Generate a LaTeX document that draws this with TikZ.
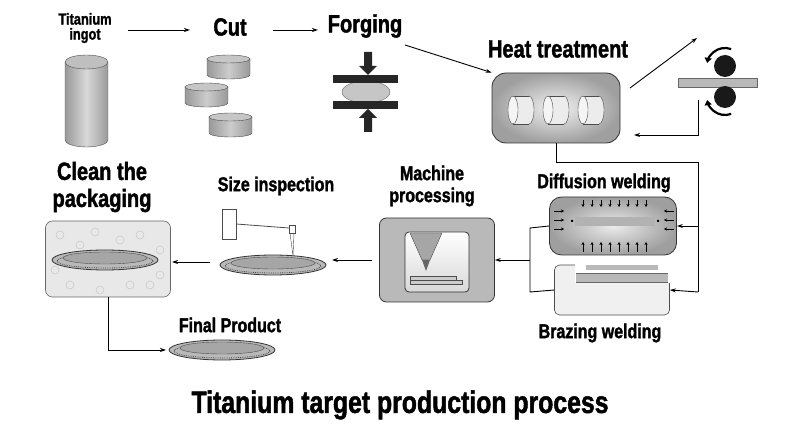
\documentclass[tikz,border=0pt]{standalone}
\usepackage{fontspec}
\setmainfont{Liberation Sans}[FakeStretch=0.8,FakeBold=1.5]
\usetikzlibrary{arrows.meta}
\begin{document}
\begin{tikzpicture}[x=1pt,y=-1pt,
 lab/.style={font=\bfseries\fontsize{#1}{#1}\selectfont,align=center,inner sep=0},
 ar/.style={-{Stealth[length=6pt,width=4pt]},line width=0.9pt},
 ln/.style={line width=0.9pt},
 target/.pic={
   \fill[gray!55,draw=black!80,line width=0.8pt] (0,0) ellipse[x radius=53,y radius=10];
   \draw[black!70,densely dotted,line width=0.8pt] (0,1) ellipse[x radius=48,y radius=7];
   \fill[gray!70,draw=black!70] (0,-2) ellipse[x radius=42,y radius=6];},
 ]
\useasboundingbox (0,0) rectangle (804,446);
% top row labels
\node[lab=16] (ingotl) at (85,28) {Titanium\\[-1pt]ingot};
\node[lab=25] (cutl) at (230,27) {Cut};
\node[lab=25] (forgl) at (365,26) {Forging};
\draw[ar] (128,30) coordinate (a1) -- (190,30) coordinate (a2);
\draw[ar] (273,30) coordinate (b1) -- (318,30) coordinate (b2);
% ingot
\shade[left color=gray!80,right color=gray!80,middle color=gray!30] (65,62) -- (65,140) arc[start angle=180,end angle=0,x radius=21.5,y radius=7] -- (108,62) -- cycle;
\draw[black!70] (65,62) -- (65,140) arc[start angle=180,end angle=0,x radius=21.5,y radius=7] -- (108,62);
\fill[gray!50,draw=black!70] (86.5,62) ellipse[x radius=21.5,y radius=7];
% cut disks
\foreach \x/\y in {207/55,185/83,209/113}{
 \shade[left color=gray!80,right color=gray!80,middle color=gray!40] (\x,\y+4) -- (\x,\y+20) arc[start angle=180,end angle=0,x radius=21.5,y radius=4] -- (\x+43,\y+4) -- cycle;
 \draw[black!70] (\x,\y+4) -- (\x,\y+20) arc[start angle=180,end angle=0,x radius=21.5,y radius=4] -- (\x+43,\y+4);
 \fill[gray!45,draw=black!70] (\x+21.5,\y+4) ellipse[x radius=21.5,y radius=4];}
% forging
\fill[gray!45,draw=black!60] (366,92) ellipse[x radius=24,y radius=11];
\fill[black!85] (333,75) rectangle (398,83);
\fill[black!85] (333,101) rectangle (398,109);
\fill[black!85] (364,52) rectangle (372,66) (359,66) -- (377,66) -- (368,75) -- cycle;
\fill[black!85] (364,118) rectangle (372,132) (359,118) -- (377,118) -- (368,109) -- cycle;
% heat treatment
\node[lab=25] (heatl) at (558,49) {Heat treatment};
\node[draw=black!80,line width=0.8pt,rounded corners=14pt,minimum width=128,minimum height=70,inner color=gray!10,outer color=gray!75] (heat) at (556,108) {};
\foreach \x in {522,557,592}{
 \fill[gray!15,draw=black!70] (\x+7,110) ellipse[x radius=5,y radius=14];
 \fill[gray!15] (\x-9,96) rectangle (\x+7,124);
 \draw[black!70] (\x-9,96) -- (\x+7,96) (\x-9,124) -- (\x+7,124);
 \fill[gray!8,draw=black!70] (\x-9,110) ellipse[x radius=5,y radius=14];}
\coordinate (fo) at (405,45);
\draw[ar] (fo) -- (heat.north west);
% rollers
\coordinate (rl) at (697,38);
\draw[ar] (630,88) -- (rl);
\fill[gray!55,draw=black!60] (678,78) rectangle (757,87);
\fill[black!90] (725,66) circle (11);
\fill[black!90] (725,97) circle (11);
\draw[line width=2.2pt,-{Triangle[length=5pt,width=7pt]}] (725,66) ++(-70:18) arc[start angle=-70,end angle=-170,radius=18];
\draw[line width=2.2pt,-{Triangle[length=5pt,width=7pt]}] (725,97) ++(70:18) arc[start angle=70,end angle=170,radius=18];
\coordinate (rr) at (698,100);
\draw[ar] (rr) -- (698,135) -- (634,135);
% diffusion welding
\node[lab=20] (diffl) at (604,183) {Diffusion welding};
\node[draw=black!80,line width=0.8pt,rounded corners=12pt,minimum width=127,minimum height=58,inner color=gray!15,outer color=gray!75] (diff) at (613,226) {};
\fill[gray!60] (575,217) rectangle (655,226);
\fill[black] (571,220) rectangle (573,222) (657,220) rectangle (659,222);
\foreach \i in {0,...,7}{
 \draw[-{Stealth[length=3pt,width=3pt]}] (583+\i*9,200) -- (583+\i*9,207);
 \draw[-{Stealth[length=3pt,width=3pt]}] (583+\i*9,252) -- (583+\i*9,242);}
\foreach \y in {211,220,229}{
 \draw[-{Stealth[length=3pt,width=3pt]}] (554,\y) -- (564,\y);
 \draw[-{Stealth[length=3pt,width=3pt]}] (674,\y) -- (664,\y);}
% brazing
\node[draw=black!70,line width=0.6pt,rounded corners=5pt,fill=gray!12,minimum width=115,minimum height=50] (braz) at (612,290) {};
\fill[white] (575,262) rectangle (672,283);
\fill[gray!55] (586,265) rectangle (658,270);
\fill[gray!55] (576,273) rectangle (668,282);
\draw[black!60] (576,273) -- (668,273) (576,282)--(668,282);
\node[lab=20] (brazl) at (600,333) {Brazing welding};
% routing from heat box
\draw[ln] (heat.south) -- (556,162) -- (698,162) -- (698,292);
\draw[ar] (698,226) -- (diff.east);
\draw[ar] (698,292) -- (braz.east);
\draw[ln] (diff.west) -- (530,228) -- (530,292) -- (braz.west);
% machine
\node[lab=20] (machl) at (432,186) {Machine\\[2pt]processing};
\node[draw=black!80,line width=0.8pt,rounded corners=7pt,fill=gray!55,minimum width=115,minimum height=84] (mach) at (437,260) {};
\node[draw=black!80,line width=0.8pt,rounded corners=4pt,top color=white,bottom color=gray!30,minimum width=64,minimum height=60] (machin) at (437,262) {};
\fill[gray!70,draw=black!70] (410,233) -- (442,233) -- (430,260) -- (422,260) -- cycle;
\fill[black!60] (422,260) -- (430,260) -- (426,271) -- cycle;
\fill[gray!40,draw=black!70] (410,276) rectangle (456,280);
\fill[gray!40,draw=black!70] (410,280) rectangle (462,284);
\draw[ar] (530,260) -- (mach.east);
% size inspection
\node[lab=20] (sizel) at (276,186) {Size inspection};
\draw[ar] (372,260) coordinate (m1) -- (332,260);
\node[draw=black!70,fill=white,minimum width=14,minimum height=30,inner sep=0] (sbox) at (229,224) {};
\draw[black!70,line width=0.8pt] (sbox.east) -- (289,228);
\node[draw=black!70,fill=white,minimum width=6,minimum height=8,inner sep=0] (probe) at (292,229) {};
\draw[black!70] (290,233) -- (293,256) -- (294,233);
\pic at (273,265) {target};
\coordinate (s1) at (210,262);
\draw[ar] (s1) -- (172,262);
% clean
\node[lab=25] (cleanl) at (102,187) {Clean the\\[2pt]packaging};
\node[draw=black!60,line width=0.6pt,rounded corners=7pt,fill=gray!18,minimum width=125,minimum height=76] (clean) at (108,259) {};
\foreach \px/\py in {60/235,80/245,140/235,150/285,70/285,120/240,100/290,160/250,55/270,130/285,95/232,160/275}{
 \draw[gray!45,line width=0.5pt] (\px,\py) circle (4);}
\pic at (105,260) {target};
% final
\draw[ar] (clean.south) -- (108,350) -- (166,350);
\pic at (222,350) {target};
\node[lab=20] (finl) at (230,325) {Final Product};
% title
\node[lab=31] (title) at (400,405) {Titanium target production process};
\end{tikzpicture}
\end{document}
